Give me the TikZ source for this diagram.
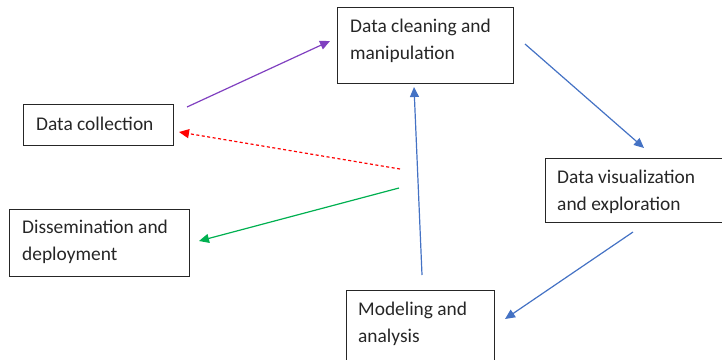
\documentclass[tikz,border=0pt]{standalone}
\usepackage{fontspec}
\setmainfont{Carlito}
\usetikzlibrary{arrows.meta}
\definecolor{cpurple}{HTML}{8040C0}
\definecolor{cblue}{HTML}{4472C4}
\definecolor{cred}{HTML}{FF0000}
\definecolor{cgreen}{HTML}{00B050}
\tikzset{
  box/.style={draw=black!85, line width=1pt, fill=none, inner sep=0pt, anchor=north west},
  txt/.style={anchor=base west, inner sep=0pt, align=left, font=\fontsize{19.4pt}{27pt}\selectfont, text=black!85},
  conn/.style={line width=1.2pt, -{Triangle[length=10pt,width=9pt]}},
}
\begin{document}
\begin{tikzpicture}[x=1pt,y=-1pt]
\useasboundingbox (0,0) rectangle (722,359);
\clip (0,0) rectangle (722,359);
% boxes
\node[box, minimum width=150pt, minimum height=41pt] (collect) at (23,104) {};
\node[box, minimum width=176pt, minimum height=76pt] (clean) at (337,7) {};
\node[box, minimum width=185pt, minimum height=64pt] (viz) at (545,158) {};
\node[box, minimum width=180pt, minimum height=67pt] (dissem) at (9,209) {};
\node[box, minimum width=148pt, minimum height=80pt] (model) at (346,290) {};
% texts (base anchor = baseline of the last line)
\node[txt] (collecttxt) at (36,130.5) {Data collection};
\node[txt] (cleantxt) at (350,59.7) {Data cleaning and\\manipulation};
\node[txt] (viztxt) at (557,210) {Data visualization\\and exploration};
\node[txt] (dissemtxt) at (22,260.7) {Dissemination and\\deployment};
\node[txt] (modeltxt) at (358,342.3) {Modeling and\\analysis};
% connector end points
\coordinate (p1) at (187,107); \coordinate (p2) at (330,41);
\coordinate (b1) at (525,44); \coordinate (b2) at (644,148);
\coordinate (b3) at (633,232); \coordinate (b4) at (505,319);
\coordinate (v1) at (422,275); \coordinate (v2) at (414,87);
\coordinate (r1) at (400,169); \coordinate (r2) at (179,132);
\coordinate (g1) at (399,188); \coordinate (g2) at (199,241);
% connectors
\draw[conn, cpurple] (p1) -- (p2);
\draw[conn, cblue] (b1) -- (b2);
\draw[conn, cblue] (b3) -- (b4);
\draw[conn, cblue] (v1) -- (v2);
\draw[conn, cred, dash pattern=on 3pt off 2.5pt] (r1) -- (r2);
\draw[conn, cgreen] (g1) -- (g2);
\end{tikzpicture}
\end{document}
